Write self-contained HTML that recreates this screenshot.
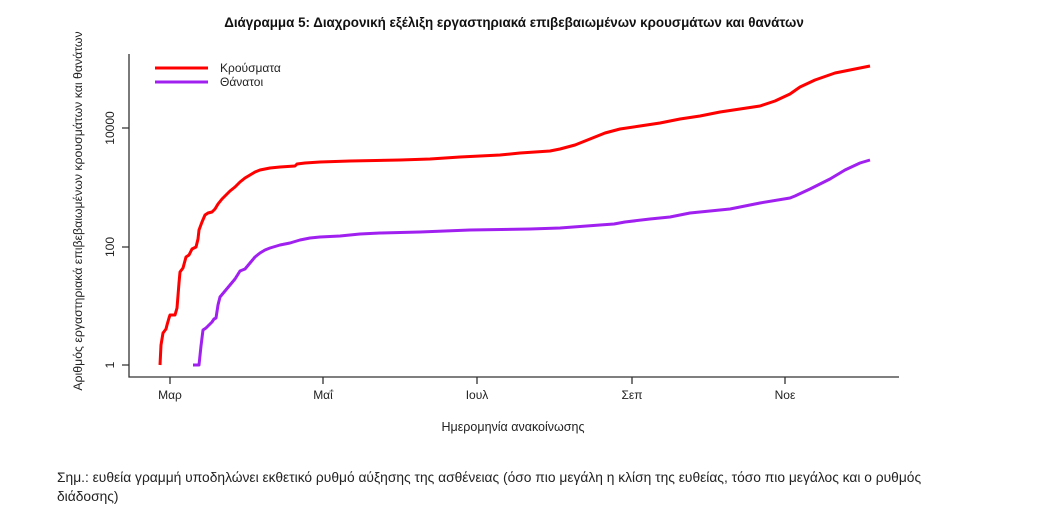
<!DOCTYPE html>
<html><head><meta charset="utf-8"><style>
body{margin:0;background:#fff;}
svg{display:block;font-family:"Liberation Sans","DejaVu Sans",sans-serif;}
</style></head><body>
<svg width="1050" height="516" viewBox="0 0 1050 516">
<text x="514" y="27" text-anchor="middle" font-size="13.4" font-weight="bold" fill="#111">Διάγραμμα 5: Διαχρονική εξέλιξη εργαστηριακά επιβεβαιωμένων κρουσμάτων και θανάτων</text>
<g stroke="#333" stroke-width="1.3" fill="none">
<path d="M129 54 V377 H899"/>
<path d="M122 365 H129 M122 247 H129 M122 128 H129"/>
<path d="M170 377 V384 M323 377 V384 M477 377 V384 M632 377 V384 M785 377 V384"/>
</g>
<g font-size="12" fill="#222" text-anchor="middle">
<text transform="translate(114,365) rotate(-90)">1</text>
<text transform="translate(114,247) rotate(-90)">100</text>
<text transform="translate(114,128) rotate(-90)">10000</text>
<text x="170" y="399">Μαρ</text>
<text x="323" y="399">Μαΐ</text>
<text x="477" y="399">Ιουλ</text>
<text x="632" y="399">Σεπ</text>
<text x="785" y="399">Νοε</text>
<text x="513" y="431" font-size="12.5">Ημερομηνία ανακοίνωσης</text>
<text transform="translate(82,211) rotate(-90)" font-size="12.3">Αριθμός εργαστηριακά επιβεβαιωμένων κρουσμάτων και θανάτων</text>
</g>
<path d="M155 68 H208" stroke="#ff0000" stroke-width="3"/>
<path d="M155 82 H208" stroke="#a020f0" stroke-width="3"/>
<text x="220" y="72" font-size="12" fill="#222">Κρούσματα</text>
<text x="220" y="86" font-size="12" fill="#222">Θάνατοι</text>
<polyline fill="none" stroke="#ff0000" stroke-width="3" stroke-linejoin="round" points="160,365 161,345 163,333 166,329 167,325 169,318 170,315 175,315 177,308 179,283 180,272 183,268 186,257 189,255 192,249 196,247 198,239 199,230 202,222 205,215 208,213 212,212 215,209 218,204 222,199 226,195 230,191 235,187 240,182 245,178 250,175 255,172 260,170 270,168 280,167 295,166 297,164 305,163 320,162 350,161 400,160 430,159 460,157 500,155 520,153 550,151 560,149 575,145 590,139 605,133 620,129 640,126 660,123 680,119 700,116 720,112 740,109 760,106 775,101 790,94 800,87 815,80 835,73 850,70 870,66"/>
<polyline fill="none" stroke="#a020f0" stroke-width="3" stroke-linejoin="round" points="193,365 199,365 201,346 203,330 206,328 209,325 212,322 214,319 216,318 218,305 220,297 225,291 230,285 235,279 240,271 245,269 250,263 255,257 260,253 265,250 270,248 280,245 290,243 300,240 310,238 320,237 340,236 360,234 380,233 420,232 470,230 530,229 560,228 600,225 614,224 625,222 650,219 670,217 690,213 710,211 730,209 760,203 790,198 795,196 810,189 830,179 845,170 860,163 870,160"/>
<text x="57" y="482" font-size="13.8" fill="#222">Σημ.: ευθεία γραμμή υποδηλώνει εκθετικό ρυθμό αύξησης της ασθένειας (όσο πιο μεγάλη η κλίση της ευθείας, τόσο πιο μεγάλος και ο ρυθμός</text>
<text x="57" y="501" font-size="13.8" fill="#222">διάδοσης)</text>
</svg>
</body></html>
